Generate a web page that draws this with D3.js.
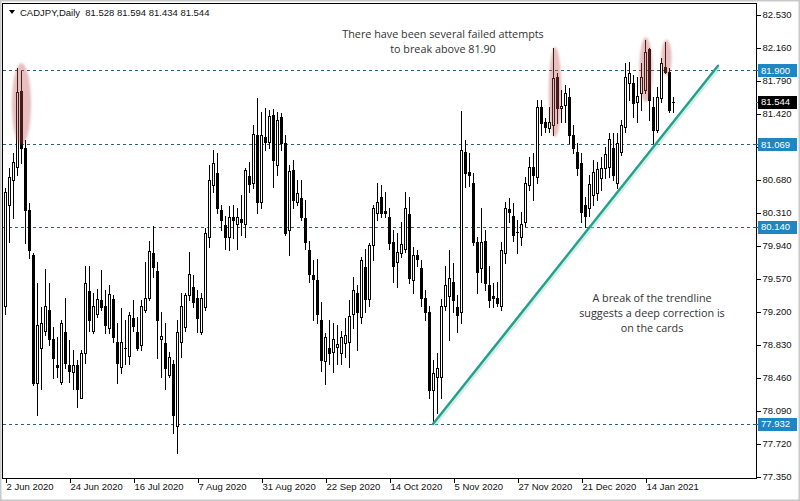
<!DOCTYPE html>
<html><head><meta charset="utf-8">
<script src="https://cdn.jsdelivr.net/npm/d3@7"></script>
<style>html,body{margin:0;padding:0;background:#fff;overflow:hidden}svg{display:block}</style>
</head><body>
<svg id="c" width="800" height="501"></svg>
<script>
// ---- data: CADJPY daily, one entry per trading day starting 2 Jun 2020 ----
const openP = [79.26,80.39,80.67,80.81,81.67,81.03,80.33,79.83,78.39,78.78,78.98,79.21,78.89,78.60,78.40,78.96,78.60,78.52,78.59,78.23,
78.73,79.42,78.98,79.17,79.32,79.26,79.01,79.33,78.85,78.57,78.79,78.70,79.12,78.96,78.82,79.21,79.35,79.85,79.65,78.89,
78.84,78.48,78.61,77.91,78.85,79.02,79.38,79.47,79.35,78.96,79.24,80.03,80.61,80.75,80.33,80.16,80.03,80.25,80.18,80.23,
80.18,80.71,80.63,81.17,80.42,81.15,81.09,81.40,80.84,81.37,81.08,80.11,80.78,80.42,80.47,80.24,79.88,79.60,79.55,79.10,
78.64,78.79,78.74,78.80,78.73,78.84,78.85,79.17,79.40,79.13,79.69,79.34,79.94,80.30,80.48,80.32,80.25,79.97,79.75,79.85,
79.90,80.29,79.55,79.83,79.68,79.35,79.19,78.31,78.46,78.46,79.26,79.37,79.52,79.24,79.19,80.98,80.76,80.64,79.97,79.68,
79.98,79.49,79.37,79.35,79.26,79.85,80.34,80.27,80.07,80.03,80.20,80.61,80.81,80.70,81.49,81.32,81.25,81.28,81.82,81.48,
81.51,81.60,81.17,80.98,80.86,80.39,80.36,80.50,80.52,80.69,80.80,80.81,81.03,80.63,80.98,81.26,81.76,81.76,81.54,81.64,
81.68,82.14,81.49,81.23,81.59,81.94,81.88,81.528];
const highP = [80.58,80.80,80.97,81.92,81.89,81.12,80.41,79.85,79.51,79.24,79.67,79.51,79.02,78.91,79.10,79.35,78.87,78.76,78.65,78.76,
79.71,79.71,79.40,79.45,79.66,79.43,79.49,79.38,79.06,79.23,79.10,79.19,79.32,79.13,79.32,79.75,79.99,80.15,79.75,79.19,
79.06,78.74,78.65,79.10,79.40,79.40,79.86,79.60,79.43,79.40,80.13,80.84,81.00,80.97,80.39,80.27,80.38,80.39,80.36,80.50,
80.80,80.87,81.28,81.59,81.43,81.48,81.45,81.46,81.43,81.42,81.17,80.84,80.89,80.67,80.67,80.44,79.99,79.77,79.78,79.30,
78.95,79.10,79.06,79.04,78.98,79.12,79.32,79.58,79.49,79.80,79.90,79.96,80.39,80.63,80.61,80.53,80.35,80.11,80.07,80.20,
80.53,80.48,79.92,79.88,79.77,79.43,79.26,78.65,78.73,79.34,79.71,79.88,79.74,79.38,81.44,81.12,80.97,80.75,80.03,80.35,
80.11,79.71,79.51,79.52,79.97,80.42,80.47,80.41,80.22,80.31,80.70,80.93,80.97,81.57,81.57,81.36,81.49,82.15,81.87,81.68,
81.73,81.70,81.28,81.08,80.97,80.48,80.72,80.89,80.87,80.93,81.04,81.20,81.20,81.20,81.34,81.98,81.99,81.85,81.82,81.98,
82.24,82.15,81.60,81.71,82.04,82.22,81.92,81.594];
const lowP = [79.17,79.97,80.24,80.72,80.86,79.96,79.79,78.37,78.03,78.33,78.93,78.82,78.45,78.46,78.38,78.56,78.40,78.32,78.12,78.22,
78.62,78.98,78.95,79.13,79.21,78.95,78.95,78.85,78.39,78.51,78.61,78.61,78.98,78.76,78.76,79.19,79.32,79.58,78.67,78.46,
78.33,78.46,77.83,77.61,78.68,78.98,79.32,79.25,78.96,78.94,79.21,79.92,80.53,80.30,80.11,79.90,79.88,80.02,79.90,80.05,
80.03,80.53,80.58,80.30,80.35,81.00,81.03,80.59,80.73,81.00,80.05,79.83,80.36,80.39,80.22,79.90,79.52,79.10,79.06,78.53,
78.38,78.61,78.52,78.61,78.61,78.68,78.57,79.01,78.76,79.07,79.19,79.26,79.77,80.22,80.25,80.25,79.90,79.52,79.47,79.80,
79.86,79.51,79.40,79.71,79.26,79.10,78.23,77.932,78.06,78.22,79.21,78.87,79.19,78.96,79.07,80.59,80.60,79.94,79.40,79.52,
79.43,79.25,79.24,79.26,79.21,79.74,80.20,79.99,79.85,79.94,80.15,80.56,80.44,80.63,81.17,81.21,81.21,81.17,81.31,81.32,
81.32,81.08,80.97,80.72,80.20,80.14,80.27,80.39,80.44,80.56,80.69,80.70,80.67,80.58,80.95,81.21,81.57,81.37,81.32,81.45,
81.64,81.34,81.08,81.21,81.54,81.87,81.43,81.434];
const closeP = [80.53,80.70,80.87,81.65,81.03,80.33,79.88,78.39,79.04,79.06,79.26,78.89,78.67,78.57,79.06,78.62,78.53,78.59,78.33,78.73,
79.51,79.10,79.26,79.34,79.25,79.04,79.39,78.91,78.62,78.85,78.77,79.16,79.03,78.79,79.26,79.35,79.87,79.69,79.10,78.92,
78.56,78.68,78.03,78.96,79.26,79.38,79.62,79.30,79.12,79.35,80.08,80.67,80.86,80.35,80.22,80.03,80.25,80.22,80.25,80.20,
80.78,80.62,81.18,80.42,81.17,81.09,81.39,80.89,81.34,81.08,80.08,80.77,80.44,80.52,80.25,79.97,79.62,79.56,79.17,78.65,
78.91,78.73,78.89,78.83,78.91,78.93,79.14,79.43,79.19,79.77,79.34,79.94,80.36,80.42,80.30,80.30,79.96,79.71,79.86,79.95,
80.36,79.57,79.83,79.78,79.35,79.19,78.31,78.50,78.56,79.26,79.49,79.57,79.32,79.15,81.00,80.75,80.72,79.97,79.64,79.97,
79.51,79.32,79.35,79.29,79.88,80.35,80.31,80.05,80.09,80.18,80.64,80.81,80.72,81.49,81.31,81.26,81.32,81.81,81.48,81.50,
81.64,81.17,81.03,80.80,80.31,80.27,80.62,80.76,80.79,80.80,80.96,81.13,80.72,81.08,81.28,81.82,81.87,81.53,81.61,81.82,
82.10,81.57,81.23,81.60,81.98,81.88,81.45,81.544];

const xTickLabels = ["2 Jun 2020","24 Jun 2020","16 Jul 2020","7 Aug 2020","31 Aug 2020","22 Sep 2020",
                     "14 Oct 2020","5 Nov 2020","27 Nov 2020","21 Dec 2020","14 Jan 2021"];
const xTickBars = [0,16,32,48,64,80,96,112,128,144,160];
const yTicks = [82.53,82.16,81.79,81.42,81.05,80.68,80.31,79.94,79.57,79.20,78.83,78.46,78.09,77.72,77.35];
const levels = [81.900, 81.069, 80.140, 77.932];
const lastPrice = 81.544;
const headerText = "CADJPY,Daily  81.528 81.594 81.434 81.544";
const trendBars = [107, 178.25];
const trendPrices = [77.932, 81.95];
// highlighted tops: centre bar, top price, bottom price, half width in bars
const hlBar = [4, 137.4, 160.1, 165.25];
const hlTop = [81.98, 82.16, 82.27, 82.24];
const hlBottom = [81.06, 81.15, 81.54, 81.84];
const hlHalf = [2.4, 1.6, 1.65, 1.3];
const note1 = ["There have been several failed attempts", "to break above 81.90"];
const note2 = ["A break of the trendline", "suggests a deep correction is", "on the cards"];

// ---- layout ----
const W = 800, H = 501;
const L = 3, R = 756, T = 4, B = 478;
const svg = d3.select("#c");
const x = d3.scaleLinear().domain([0, 187.75]).range([5, 756]);
const y = d3.scaleLinear().domain([77.35, 82.53]).range([476, 14]);
const FONT = "'Liberation Sans', Arial, sans-serif";

svg.append("rect").attr("x",0).attr("y",0).attr("width",W).attr("height",H).attr("fill","#fff");
svg.append("rect").attr("x",0.75).attr("y",0.75).attr("width",W-1.5).attr("height",H-1.5)
   .attr("fill","none").attr("stroke","#c9c9c9").attr("stroke-width",1.5);

const defs = svg.append("defs");
defs.append("clipPath").attr("id","plot").append("rect").attr("x",L).attr("y",T).attr("width",R-L).attr("height",B-T);
defs.append("filter").attr("id","soft").attr("x","-50%").attr("y","-20%").attr("width","200%").attr("height","140%")
   .append("feGaussianBlur").attr("stdDeviation",1.3);

const plot = svg.append("g").attr("clip-path","url(#plot)");

// level lines
plot.selectAll("line.lvl").data(levels).join("line").attr("class","lvl")
  .attr("x1",L).attr("x2",R).attr("y1",d=>Math.round(y(d))+0.5).attr("y2",d=>Math.round(y(d))+0.5)
  .attr("stroke","#2e6170").attr("stroke-width",1).attr("stroke-dasharray","3,3");

// candles
const bars = d3.range(openP.length).map(i=>({i,o:openP[i],h:highP[i],l:lowP[i],c:closeP[i]}));
const cg = plot.append("g").attr("shape-rendering","crispEdges");
bars.forEach(d=>{
  const cx = Math.round(x(d.i));
  const yh = Math.round(y(d.h)), yl = Math.round(y(d.l));
  const yt = Math.round(y(Math.max(d.o,d.c))), yb = Math.round(y(Math.min(d.o,d.c)));
  cg.append("line").attr("x1",cx+0.5).attr("x2",cx+0.5).attr("y1",yh).attr("y2",yl+1).attr("stroke","#000");
  if (yb - yt < 2) {
    cg.append("rect").attr("x",cx-1).attr("y",yt).attr("width",3).attr("height",1).attr("fill","#000");
  } else if (d.c >= d.o) {
    cg.append("rect").attr("x",cx-0.5).attr("y",yt+0.5).attr("width",2).attr("height",yb-yt)
      .attr("fill","#fff").attr("stroke","#000").attr("stroke-width",1);
  } else {
    cg.append("rect").attr("x",cx-1).attr("y",yt).attr("width",3).attr("height",yb-yt+1).attr("fill","#000");
  }
});

// highlight ellipses
plot.selectAll("ellipse.hl").data(hlBar).join("ellipse").attr("class","hl")
  .attr("cx",(d)=>x(d)+0.5)
  .attr("cy",(d,k)=>(y(hlTop[k])+y(hlBottom[k]))/2)
  .attr("rx",(d,k)=>x(hlHalf[k])-x(0))
  .attr("ry",(d,k)=>(y(hlBottom[k])-y(hlTop[k]))/2)
  .attr("fill","#c0504d").attr("fill-opacity",0.36).attr("filter","url(#soft)");

// trend line
const tl = d3.line().x((d,k)=>x(trendBars[k])).y(d=>y(d));
plot.append("path").attr("d",tl(trendPrices)).attr("fill","none")
  .attr("stroke","#9fd8cf").attr("stroke-width",4.5).attr("opacity",0.45).attr("transform","translate(1,1)");
plot.append("path").attr("d",tl(trendPrices)).attr("fill","none")
  .attr("stroke","#26a08e").attr("stroke-width",2.4).attr("stroke-linecap","round");

// notes
const n1 = svg.append("text").attr("font-family","'Open Sans', sans-serif").attr("font-size",10.8).attr("fill","#333")
  .attr("text-anchor","middle");
note1.forEach((s,k)=>n1.append("tspan").attr("x",443).attr("y",38+k*15).text(s));
const n2 = svg.append("text").attr("font-family","'Open Sans', sans-serif").attr("font-size",10.8).attr("fill","#333")
  .attr("text-anchor","middle");
note2.forEach((s,k)=>n2.append("tspan").attr("x",652).attr("y",302+k*15).text(s));

// frame
svg.append("rect").attr("x",L-0.5).attr("y",T-0.5).attr("width",R-L+1).attr("height",B-T+1)
  .attr("fill","none").attr("stroke","#000").attr("stroke-width",1).attr("shape-rendering","crispEdges");

// price boxes cover these tick labels in the original terminal view
const coveredTicks = yTicks.filter(t => levels.concat([lastPrice]).some(v => Math.abs(y(v) - y(t)) < 9));

// y axis
const ya = svg.append("g").attr("transform",`translate(${R+0.5},0)`)
  .call(d3.axisRight(y).tickValues(yTicks).tickSize(4).tickPadding(2)
    .tickFormat(d => coveredTicks.includes(d) ? "" : d3.format(".3f")(d)));
ya.select(".domain").remove();
ya.selectAll("line").attr("stroke","#000").attr("shape-rendering","crispEdges")
  .attr("transform",d=>`translate(0,${Math.round(y(d))+0.5-y(d)})`);
ya.selectAll("text").attr("font-family",FONT).attr("font-size",9.5).attr("fill","#111");

// x axis
const xa = svg.append("g").attr("transform",`translate(0,${B+0.5})`)
  .call(d3.axisBottom(x).tickValues(xTickBars).tickSize(4).tickPadding(1).tickFormat((d,k)=>xTickLabels[k]));
xa.select(".domain").remove();
xa.selectAll("line").attr("stroke","#000").attr("shape-rendering","crispEdges")
  .attr("transform",d=>`translate(${Math.round(x(d))+0.5-x(d)},0)`);
xa.selectAll("text").attr("font-family",FONT).attr("font-size",9.5).attr("fill","#111")
  .attr("text-anchor","start").attr("dx",1);

// level boxes
const boxes = levels.map(v=>({v,fill:"#1f86c4"})).concat([{v:lastPrice,fill:"#000"}]);
const bg = svg.append("g");
boxes.forEach(b=>{
  const cy = y(b.v);
  bg.append("line").attr("x1",R).attr("x2",R+3).attr("y1",Math.round(cy)+0.5).attr("y2",Math.round(cy)+0.5)
    .attr("stroke","#2e6170").attr("stroke-dasharray","2,1");
  bg.append("rect").attr("x",758).attr("y",Math.round(cy)-6).attr("width",39).attr("height",13).attr("fill",b.fill);
  bg.append("text").attr("x",761).attr("y",cy).attr("dy","0.35em").attr("font-family",FONT).attr("font-size",9.5)
    .attr("fill","#fff").text(d3.format(".3f")(b.v));
});

// header
svg.append("path").attr("d","M9,10 L15,10 L12,14 Z").attr("fill","#000");
svg.append("text").attr("x",20).attr("y",16).attr("font-family",FONT).attr("font-size",9.5).attr("fill","#111")
  .attr("xml:space","preserve").style("white-space","pre").text(headerText);
</script>
</body></html>
